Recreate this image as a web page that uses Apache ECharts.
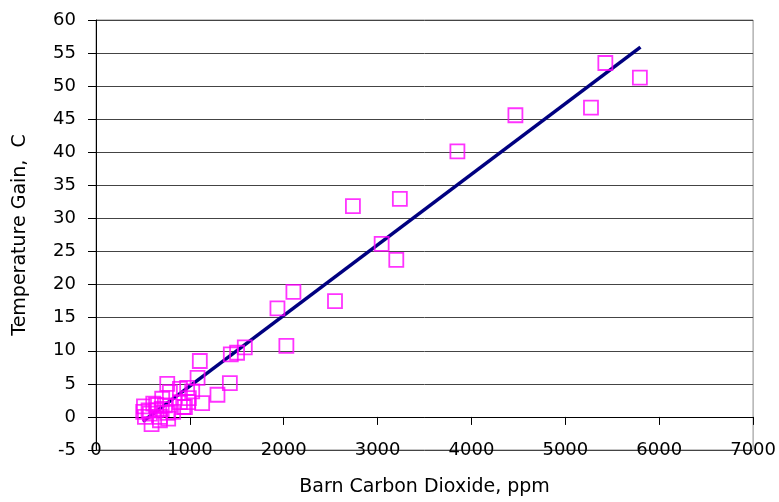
<!DOCTYPE html>
<html>
<head>
<meta charset="utf-8">
<title>Barn CO2 vs Temperature Gain</title>
<script src="https://cdn.jsdelivr.net/npm/echarts@6/dist/echarts.min.js"></script>
<style>
  html, body { margin: 0; padding: 0; background: #fff; }
  #chart { width: 779px; height: 502px; }
</style>
</head>
<body>
<div id="chart"></div>
<script>
// Barn carbon dioxide (ppm) and measured temperature gain (C)
const co2Ppm = [
  5794, 5426, 5273, 4468, 3850, 3237, 2737, 3043, 3199, 2546,
  2103, 1933, 2028, 1585, 1503, 1436, 1106,
  1426, 1082, 759, 971, 894, 1025, 1294, 1131, 989, 947, 787,
  705, 734, 511, 503, 521, 574, 645, 681, 592, 681, 769, 822,
  610, 894, 640, 700, 560, 760, 982, 929
];
const tempGain = [
  51.3, 53.5, 46.75, 45.6, 40.15, 32.95, 31.85, 26.15, 23.75, 17.5,
  18.9, 16.4, 10.75, 10.5, 9.7, 9.45, 8.45,
  5.1, 5.9, 5.0, 4.4, 4.25, 3.85, 3.35, 2.1, 2.85, 1.5, 3.75,
  2.75, 1.75, 1.6, 0.75, 0.0, 0.5, 1.0, 0.0, -1.1, -0.5, -0.25, 0.75,
  2.0, 2.25, 1.8, 1.2, 1.0, 0.6, 2.25, 1.5
];

// Linear trend line endpoints
const trendX = [500, 5800];
const trendY = [-0.67, 55.9];

// Axis ranges and tick spacing
const xTicks = { min: 0, max: 7000, step: 1000 };
const yTicks = { min: -5, max: 60, step: 5 };

const FONT = 'DejaVu Sans';
const plain = v => String(v);

const chart = echarts.init(document.getElementById('chart'), null, { renderer: 'canvas' });

chart.setOption({
  animation: false,
  backgroundColor: '#ffffff',
  grid: {
    left: 96, right: 25, top: 20, bottom: 48.7,
    show: true, borderColor: '#8c8c8c', borderWidth: 1, backgroundColor: 'transparent'
  },
  xAxis: [
    {
      type: 'value', min: xTicks.min, max: xTicks.max, interval: xTicks.step,
      position: 'bottom',
      name: 'Barn Carbon Dioxide, ppm', nameLocation: 'middle', nameGap: 28,
      nameTextStyle: { fontFamily: FONT, fontSize: 19, color: '#000' },
      axisLine: { show: false, onZero: false },
      axisTick: { show: false },
      axisLabel: { fontFamily: FONT, fontSize: 18, color: '#000', margin: 0, verticalAlign: 'middle', formatter: plain },
      splitLine: { show: false }
    },
    {
      type: 'value', min: xTicks.min, max: xTicks.max, interval: xTicks.step,
      position: 'bottom',
      axisLine: { show: true, onZero: true, lineStyle: { color: '#000', width: 1 } },
      axisTick: { show: true, inside: false, length: 8, lineStyle: { color: '#000' } },
      axisLabel: { show: false },
      splitLine: { show: false }
    }
  ],
  yAxis: {
    type: 'value', min: yTicks.min, max: yTicks.max, interval: yTicks.step,
    name: 'Temperature Gain,  C', nameLocation: 'middle', nameGap: 66,
    nameTextStyle: { fontFamily: FONT, fontSize: 19, color: '#000' },
    axisLine: { show: true, onZero: false, lineStyle: { color: '#000', width: 1 } },
    axisTick: { show: true, inside: false, length: 8, lineStyle: { color: '#000' } },
    axisLabel: { fontFamily: FONT, fontSize: 18, color: '#000', margin: 20, formatter: plain },
    splitLine: { show: true, lineStyle: { color: '#444', width: 1 } }
  },
  series: [
    {
      type: 'line',
      data: trendX.map((x, i) => [x, trendY[i]]),
      symbol: 'none',
      lineStyle: { color: '#000080', width: 3.5 },
      z: 2
    },
    {
      type: 'scatter',
      data: co2Ppm.map((x, i) => [x, tempGain[i]]),
      symbol: 'rect',
      symbolSize: 14,
      itemStyle: { color: 'rgba(0,0,0,0)', borderColor: '#ff00ff', borderWidth: 1.8 },
      z: 3
    }
  ]
});
</script>
</body>
</html>
